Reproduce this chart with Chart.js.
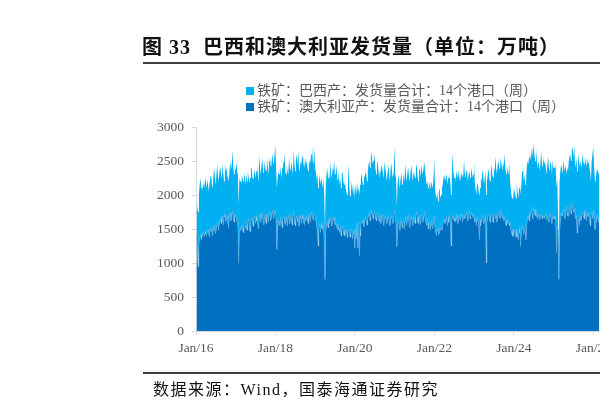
<!DOCTYPE html>
<html>
<head>
<meta charset="utf-8">
<script src="https://cdn.jsdelivr.net/npm/chart.js@4.4.1/dist/chart.umd.min.js"></script>
<style>
  html, body { margin:0; padding:0; background:#fff; }
  body { width:600px; height:414px; overflow:hidden; position:relative; }
  .abs { position:absolute; white-space:pre; }
  #title { left:142px; top:35px; font: bold 20px "Liberation Serif","Noto Sans CJK SC",sans-serif; line-height:24px; color:#111; letter-spacing:1px; }
  .rule { position:absolute; left:143px; width:457px; height:2px; background:#3f3f3f; }
  .leg { position:absolute; left:246px; font: 14px "Liberation Serif","Noto Sans CJK SC",serif; color:#595959; line-height:16px; }
  .leg i { display:inline-block; width:8px; height:8px; margin-right:3px; vertical-align:0px; }
  #src { left:153px; top:381px; font: 16px "Liberation Serif","Noto Sans CJK SC",serif; line-height:18px; color:#111; letter-spacing:1.5px; }
  #wrap { position:absolute; left:0; top:0; width:616px; height:414px; }
</style>
</head>
<body>
<div id="wrap"><canvas id="c" width="616" height="414"></canvas></div>
<div id="title" class="abs">图 33  巴西和澳大利亚发货量（单位：万吨）</div>
<div class="rule" style="top:62px"></div>
<div id="leg1" class="leg" style="top:83px"></div>
<div id="leg2" class="leg" style="top:99px"></div>
<div class="rule" style="top:372px"></div>
<div id="src" class="abs">数据来源：Wind，国泰海通证券研究</div>
<script>
// ---- data (weekly, 52 values per year from Jan 2016) ----
const seriesNames = ["铁矿：巴西产：发货量合计：14个港口（周）", "铁矿：澳大利亚产：发货量合计：14个港口（周）"];
const startYear = 2016;
const xTickYears = [2016, 2018, 2020, 2022, 2024, 2026];
const yTicks = [0, 500, 1000, 1500, 2000, 2500, 3000];

const australia = [
// 2016
1400,1150,950,1250,1380,1420,1350,1440,1400,1460,1380,1430,1470,1400,1450,1500,1420,1380,1480,1520,1450,1400,1500,1550,1470,1430,1520,1600,1550,1480,1620,1650,1580,1700,1640,1560,1680,1720,1600,1650,1700,1580,1520,1680,1740,1620,1700,1760,1650,1600,1720,1680,
// 2017
1680,1600,1550,1000,1450,1520,1480,1560,1500,1450,1580,1620,1500,1550,1480,1600,1650,1520,1460,1580,1680,1600,1540,1650,1700,1580,1620,1700,1560,1500,1650,1720,1600,1680,1750,1620,1560,1700,1650,1580,1720,1680,1600,1750,1700,1620,1680,1780,1700,1650,1750,1780,
// 2018
1650,1200,1500,1580,1620,1550,1680,1600,1520,1650,1700,1620,1560,1680,1600,1540,1700,1650,1580,1720,1640,1560,1680,1750,1600,1550,1650,1700,1600,1680,1540,1620,1700,1580,1650,1720,1600,1560,1680,1620,1700,1650,1580,1720,1680,1600,1750,1700,1650,1620,1720,1680,
// 2019
1620,1550,1480,1250,1500,1580,1450,1520,1600,1480,1550,1300,760,1450,1550,1600,1520,1650,1580,1680,1600,1540,1650,1620,1680,1560,1600,1520,1580,1480,1530,1450,1520,1400,1480,1550,1450,1400,1500,1420,1480,1380,1450,1500,1420,1380,1460,1500,1350,1420,1480,1220,
// 2020
1500,1350,1600,1220,1450,1100,1400,1550,1620,1580,1650,1530,1600,1680,1620,1560,1650,1700,1750,1620,1680,1780,1700,1650,1720,1760,1680,1620,1700,1740,1650,1600,1700,1580,1650,1720,1600,1550,1680,1700,1620,1580,1650,1700,1600,1550,1650,1700,1620,1580,1680,1780,
// 2021
1650,1580,1240,1500,1620,1550,1480,1600,1650,1520,1580,1620,1500,1680,1600,1550,1650,1720,1580,1520,1650,1700,1600,1550,1680,1620,1580,1700,1750,1620,1580,1700,1650,1560,1720,1680,1600,1650,1760,1650,1600,1550,1650,1500,1600,1580,1480,1620,1550,1500,1600,1700,
// 2022
1500,1450,1400,1480,1520,1420,1450,1500,1530,1480,1550,1600,1650,1580,1620,1680,1550,1600,1700,1650,1580,1250,1620,1700,1680,1620,1680,1600,1650,1720,1580,1650,1700,1620,1680,1720,1600,1650,1700,1650,1700,1750,1680,1620,1700,1780,1650,1700,1750,1680,1720,1650,
// 2023
1600,1650,1550,1680,1620,1580,1340,1550,1650,1600,1700,1620,1580,1650,1700,1000,1600,1680,1720,1650,1600,1700,1730,1650,1600,1700,1720,1650,1700,1600,1680,1750,1700,1650,1780,1720,1650,1700,1620,1680,1600,1550,1650,1580,1620,1550,1600,1500,1450,1400,1500,1380,
// 2024
1500,1450,1380,1500,1400,1340,1450,1520,1240,1450,1550,1500,1420,1500,1450,1340,1550,1650,1700,1620,1750,1680,1800,1720,1650,1830,1750,1700,1800,1680,1650,1720,1680,1630,1700,1720,1650,1700,1680,1650,1720,1680,1630,1700,1650,1600,1700,1730,1650,1580,1700,1650,
// 2025
1650,1700,1600,1150,1550,1500,760,1450,1600,1700,1750,1680,1800,1720,1650,1780,1830,1700,1750,1680,1800,1850,1720,1780,1880,1750,1800,1720,1650,1700,1440,1600,1650,1550,1700,1620,1680,1750,1700,1650,1780,1700,1620,1750,1680,1720,1650,1550,1700,1750,1650,1780,
// 2026
1650,1500,1485,1600,1700,1650,1600,1700
];

const brazil = [
// 2016
550,650,800,750,770,830,750,760,650,720,720,820,730,700,770,650,630,800,770,780,700,700,780,850,780,720,780,850,730,720,730,770,720,550,810,740,520,760,750,750,600,670,680,670,760,760,750,890,750,700,730,670,
// 2017
820,750,750,850,800,680,840,590,780,750,770,630,650,750,720,750,630,660,790,820,720,660,700,650,680,670,730,750,740,700,930,680,700,770,800,730,740,800,750,770,830,770,700,750,900,780,770,840,800,800,850,940,
// 2018
750,900,750,770,680,900,670,650,880,850,750,990,790,620,850,810,600,890,820,630,840,840,620,910,850,800,850,900,850,970,860,730,800,870,900,920,850,840,870,830,800,750,770,830,770,900,850,1035,850,830,970,720,
// 2019
730,700,820,850,700,720,700,730,600,620,700,700,740,700,750,800,730,700,620,810,700,710,750,730,830,740,700,930,670,720,820,700,730,700,820,800,750,750,750,680,570,620,700,965,680,600,590,700,750,580,670,730,
// 2020
650,650,600,830,650,900,750,700,700,620,500,770,650,670,680,640,700,750,750,780,870,860,750,850,890,790,720,680,750,760,700,650,700,720,800,680,700,700,810,700,680,620,700,750,700,650,750,760,680,670,670,930,
// 2021
650,670,590,650,680,650,620,650,670,630,620,680,700,785,700,650,700,680,670,680,700,740,700,650,670,680,670,700,700,680,620,650,750,690,730,670,700,750,730,700,650,600,550,600,620,570,600,580,600,600,650,840,
// 2022
600,550,550,570,380,630,650,450,470,620,600,650,650,620,630,640,600,650,600,600,620,750,680,913,670,630,620,600,700,580,670,720,550,580,620,630,650,650,815,650,550,600,690,580,600,570,600,600,650,570,580,840,
// 2023
600,450,450,470,600,470,640,550,600,600,670,680,570,600,650,1000,600,620,680,600,600,650,720,650,650,700,630,915,700,700,770,750,700,720,770,730,700,800,780,930,800,750,800,770,680,915,650,600,550,550,650,570,
// 2024
600,550,570,700,650,610,650,680,760,700,800,965,780,800,700,830,850,850,750,930,900,820,800,980,900,930,850,800,910,870,750,780,770,720,800,920,800,700,870,800,780,720,670,750,915,800,650,770,800,720,815,750,
// 2025
750,800,750,950,700,200,340,750,750,750,650,620,715,680,700,670,470,700,600,820,750,750,780,870,830,800,935,780,750,850,910,850,960,850,800,830,720,860,800,800,770,800,780,800,770,780,750,800,500,750,950,930,
// 2026
800,750,685,700,700,700,700,700
];

const colors = { brazil: "#00B0F0", australia: "#0070C0", axis: "#d9d9d9", text: "#595959" };

// legend (HTML text)
document.getElementById("leg1").innerHTML = '<i style="background:' + colors.brazil + '"></i>' + seriesNames[0];
document.getElementById("leg2").innerHTML = '<i style="background:' + colors.australia + '"></i>' + seriesNames[1];

function weekX(i) { return startYear + Math.floor(i / 52) + (i % 52) / 52 + 0.015; }
const auPts = australia.map((v, i) => ({ x: weekX(i), y: v }));
const brPts = brazil.map((v, i) => ({ x: weekX(i), y: v }));

const tickFont = { family: "Liberation Serif", size: 13.5 };

new Chart(document.getElementById("c"), {
  type: "line",
  data: {
    datasets: [
      { label: seriesNames[1], data: auPts, backgroundColor: colors.australia, borderColor: "rgba(110,185,235,0.55)", borderWidth: 0.8, fill: "origin", pointRadius: 0, tension: 0 },
      { label: seriesNames[0], data: brPts, backgroundColor: colors.brazil, borderColor: "rgba(0,0,0,0)", borderWidth: 0.5, fill: "-1", pointRadius: 0, tension: 0 }
    ]
  },
  options: {
    responsive: false,
    animation: false,
    layout: { padding: { top: 127, left: 0, right: 0, bottom: 0 } },
    plugins: { legend: { display: false }, title: { display: false }, tooltip: { enabled: false } },
    scales: {
      x: {
        type: "linear",
        min: 2016,
        max: 2026.5,
        afterFit: s => { s.height = 83; },
        afterBuildTicks: s => { s.ticks = xTickYears.map(v => ({ value: v })); },
        ticks: { includeBounds: false, padding: 5, color: colors.text, font: tickFont, maxRotation: 0,
                 callback: v => "Jan/" + String(v).slice(2) },
        grid: { drawOnChartArea: false, drawTicks: true, tickLength: 4, color: colors.axis },
        border: { color: colors.axis }
      },
      y: {
        stacked: true,
        min: 0,
        max: 3000,
        afterFit: s => { s.width = 196; },
        afterBuildTicks: s => { s.ticks = yTicks.map(v => ({ value: v })); },
        ticks: { padding: 8, color: colors.text, font: tickFont, callback: v => String(v) },
        grid: { drawOnChartArea: false, drawTicks: true, tickLength: 4, color: colors.axis },
        border: { color: colors.axis }
      }
    }
  }
});
</script>
</body>
</html>
